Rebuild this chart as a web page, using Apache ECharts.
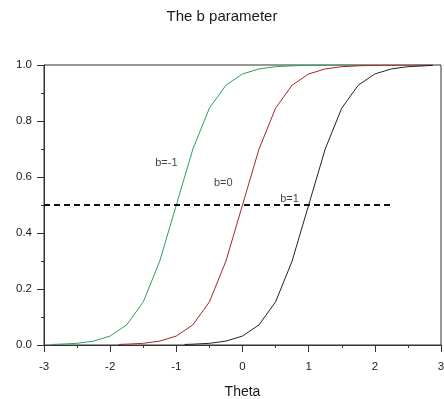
<!DOCTYPE html>
<html>
<head>
<meta charset="utf-8">
<script src="https://cdn.jsdelivr.net/npm/echarts@6/dist/echarts.min.js"></script>
<style>
  html, body { margin: 0; padding: 0; background: #fff; }
  #chart { width: 444px; height: 399px; }
</style>
</head>
<body>
<div id="chart"></div>
<script>
// values
var thetaGreen = [-2.875, -2.75, -2.5, -2.25, -2.0, -1.75, -1.5, -1.25, -1.0, -0.75, -0.5, -0.25, 0, 0.25, 0.5, 0.75, 1.0, 1.25, 1.5, 1.75, 1.875];
var probGreen  = [0.002, 0.003, 0.006, 0.014, 0.032, 0.072, 0.154, 0.30, 0.50, 0.70, 0.846, 0.928, 0.968, 0.986, 0.994, 0.997, 0.999, 0.999, 1.0, 1.0, 1.0];

var thetaRed = [-1.875, -1.75, -1.5, -1.25, -1.0, -0.75, -0.5, -0.25, 0, 0.25, 0.5, 0.75, 1.0, 1.25, 1.5, 1.75, 2.0, 2.25, 2.5, 2.75, 2.875];
var probRed  = [0.002, 0.003, 0.006, 0.014, 0.032, 0.072, 0.154, 0.30, 0.50, 0.70, 0.846, 0.928, 0.968, 0.986, 0.994, 0.997, 0.999, 0.999, 1.0, 1.0, 1.0];

var thetaBlack = [-0.875, -0.75, -0.5, -0.25, 0, 0.25, 0.5, 0.75, 1.0, 1.25, 1.5, 1.75, 2.0, 2.25, 2.5, 2.75, 2.875];
var probBlack  = [0.002, 0.003, 0.006, 0.014, 0.032, 0.072, 0.154, 0.30, 0.50, 0.70, 0.846, 0.928, 0.968, 0.986, 0.994, 0.997, 0.999];

var refLineX = [-3, 2.25];
var refLineY = [0.5, 0.5];

var labelText  = ['b=-1', 'b=0', 'b=1'];
var labelTheta = [-1.15, -0.29, 0.71];
var labelProb  = [0.65, 0.58, 0.52];

function pairs(xs, ys) {
    var out = [];
    for (var i = 0; i < xs.length; i++) out.push([xs[i], ys[i]]);
    return out;
}

var labelData = [];
for (var i = 0; i < labelText.length; i++) {
    labelData.push({ name: labelText[i], value: [labelTheta[i], labelProb[i]] });
}

var font = 'Liberation Sans, Arial, sans-serif';
var myChart = echarts.init(document.getElementById('chart'));
var option = {
    backgroundColor: '#fff',
    animation: false,
    title: {
        text: 'The b parameter',
        left: 'center',
        top: 9,
        padding: 0,
        textStyle: { fontFamily: font, fontSize: 15, fontWeight: 'normal', color: '#1a1a1a' }
    },
    grid: {
        left: 44, right: 3, top: 65, bottom: 54,
        outerBoundsMode: 'none',
        containLabel: false,
        show: true, borderColor: '#333', borderWidth: 1, backgroundColor: '#fff'
    },
    xAxis: {
        type: 'value',
        min: -3, max: 3, interval: 1,
        name: 'Theta',
        nameLocation: 'middle',
        nameGap: 40,
        nameTextStyle: { fontFamily: font, fontSize: 14, color: '#1a1a1a' },
        axisLine: { show: true, onZero: false, lineStyle: { color: '#333', width: 1 } },
        axisTick: { show: true, length: 7, lineStyle: { color: '#333' } },
        minorTick: { show: true, splitNumber: 2, length: 3, lineStyle: { color: '#333' } },
        axisLabel: { margin: 16, fontFamily: font, fontSize: 11.5, color: '#1a1a1a' },
        splitLine: { show: false }
    },
    yAxis: {
        type: 'value',
        min: 0, max: 1, interval: 0.2,
        axisLine: { show: true, onZero: false, lineStyle: { color: '#333', width: 1 } },
        axisTick: { show: true, length: 7, lineStyle: { color: '#333' } },
        minorTick: { show: true, splitNumber: 2, length: 3, lineStyle: { color: '#333' } },
        axisLabel: {
            margin: 12, fontFamily: font, fontSize: 11.5, color: '#1a1a1a',
            formatter: function (v) { return v.toFixed(1); }
        },
        splitLine: { show: false }
    },
    series: [
        {
            type: 'line', data: pairs(thetaGreen, probGreen), showSymbol: false,
            lineStyle: { color: '#2e9e5a', width: 1 }, z: 3
        },
        {
            type: 'line', data: pairs(thetaRed, probRed), showSymbol: false,
            lineStyle: { color: '#a02828', width: 1 }, z: 3
        },
        {
            type: 'line', data: pairs(thetaBlack, probBlack), showSymbol: false,
            lineStyle: { color: '#222', width: 1 }, z: 3
        },
        {
            type: 'line', data: pairs(refLineX, refLineY), showSymbol: false,
            lineStyle: { color: '#111', width: 2, type: [6, 4] }, z: 4
        },
        {
            type: 'scatter', data: labelData, symbolSize: 0, z: 5,
            label: {
                show: true, position: 'inside',
                formatter: function (p) { return p.name; },
                fontFamily: font, fontSize: 11, color: '#111'
            }
        }
    ]
};
myChart.setOption(option);
</script>
</body>
</html>
